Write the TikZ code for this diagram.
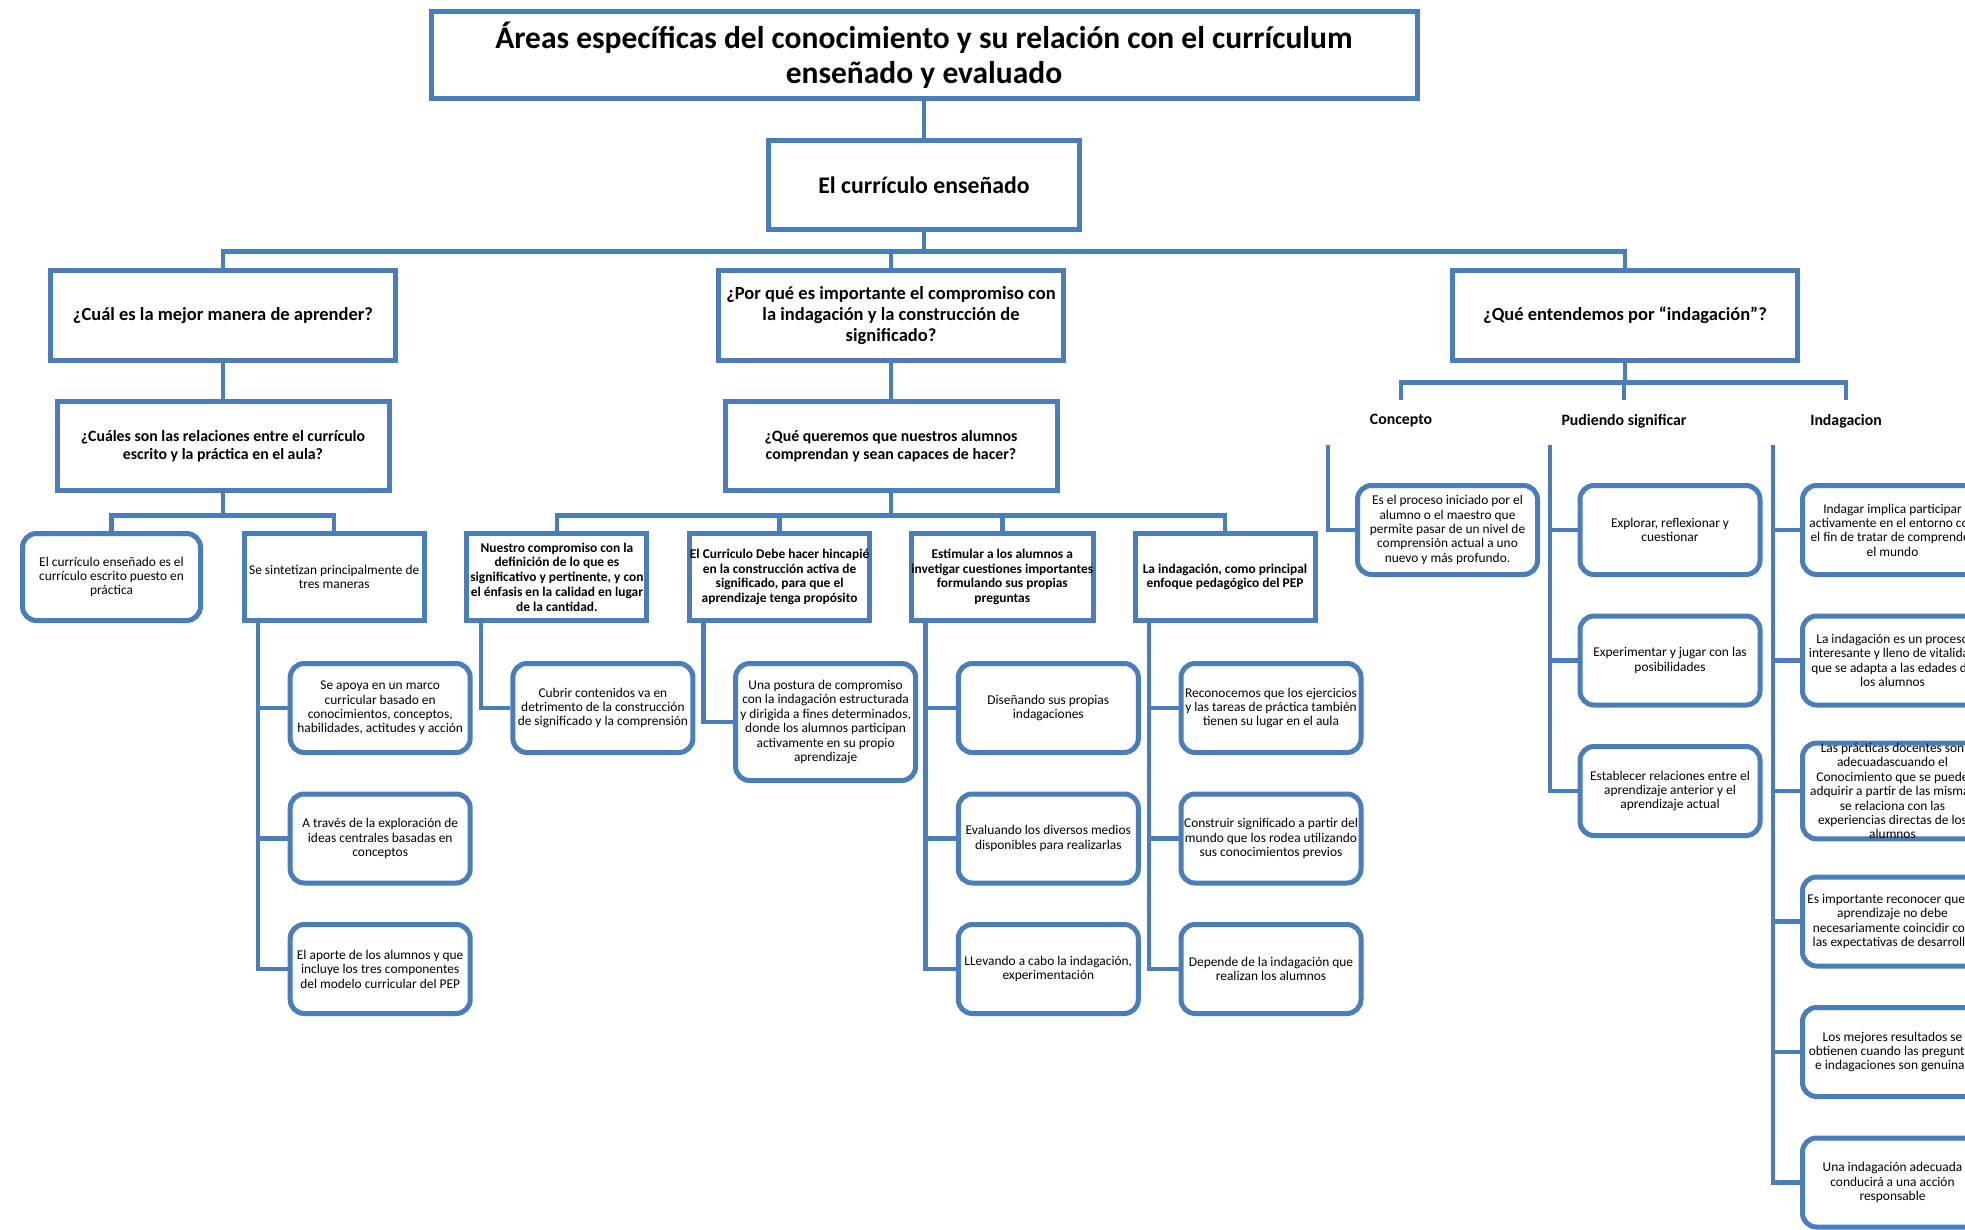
\documentclass[tikz,border=0pt]{standalone}
\usepackage{fontspec}
\setmainfont{Carlito}
\usepackage{tikz}
\usetikzlibrary{positioning}
\definecolor{boxblue}{RGB}{74,126,187}

\begin{document}
\begin{tikzpicture}[x=1pt,y=-1pt,line join=miter,
  every node/.style={align=center,inner sep=0pt,text=black},
  title node/.style={draw=boxblue,line width=5pt,minimum width=986pt,minimum height=87pt,font=\fontsize{31.5}{35}\selectfont\bfseries},
  main node/.style={draw=boxblue,line width=5pt,minimum width=311pt,minimum height=89pt,font=\fontsize{23.8}{27}\selectfont\bfseries},
  head node/.style={draw=boxblue,line width=5pt,minimum width=345pt,minimum height=90pt,font=\fontsize{18.5}{20.7}\selectfont\bfseries},
  sub node/.style={draw=boxblue,line width=5pt,minimum width=332pt,minimum height=89pt,font=\fontsize{15.8}{17.6}\selectfont\bfseries},
  key node/.style={draw=boxblue,line width=5pt,minimum width=180pt,minimum height=87pt,font=\fontsize{13.4}{14.7}\selectfont\bfseries},
  leaf node/.style={draw=boxblue,line width=5pt,rounded corners=14pt,minimum width=180pt,minimum height=89pt,font=\fontsize{13.4}{14.4}\selectfont},
  tag node/.style={minimum height=42pt,font=\fontsize{15.8}{17}\selectfont\bfseries},
  link/.style={draw=boxblue,line width=4.5pt}]
  \useasboundingbox (0,0) rectangle (1965,1230);
  \clip (0,0) rectangle (1965,1230);
  \fill[white] (0,0) rectangle (1965,1230);

  \node[title node] (title) at (924,55) {Áreas específicas del conocimiento y su relación con el currículum\\enseñado y evaluado};
  \node[main node] (cur) at (924,185) {El currículo enseñado};
  \node[head node] (q1) at (223,315.5) {¿Cuál es la mejor manera de aprender?};
  \node[head node] (q2) at (891,315.5) {¿Por qué es importante el compromiso con\\la indagación y la construcción de\\significado?};
  \node[head node] (q3) at (1625,315.5) {¿Qué entendemos por “indagación”?};
  \node[sub node] (r1) [below of=q1,node distance=130.5pt] {¿Cuáles son las relaciones entre el currículo\\escrito y la práctica en el aula?};
  \node[sub node] (r2) [below of=q2,node distance=130.5pt] {¿Qué queremos que nuestros alumnos\\comprendan y sean capaces de hacer?};

  \node[leaf node,minimum width=178pt,minimum height=87pt] (a1) at (111.5,577) {El currículo enseñado es el\\currículo escrito puesto en\\práctica};
  \node[key node,font=\fontsize{13.4}{14.4}\selectfont] (a2) [right of=a1,node distance=222.7pt] {Se sintetizan principalmente de\\tres maneras};
  \node[key node] (m1) [right of=a2,node distance=222.7pt] {Nuestro compromiso con la\\definición de lo que es\\significativo y pertinente, y con\\el énfasis en la calidad en lugar\\de la cantidad.};
  \node[key node] (m2) [right of=m1,node distance=222.7pt] {El Curriculo Debe hacer hincapié\\en la construcción activa de\\significado, para que el\\aprendizaje tenga propósito};
  \node[key node] (m3) [right of=m2,node distance=222.7pt] {Estimular a los alumnos a\\invetigar cuestiones importantes\\formulando sus propias\\preguntas};
  \node[key node] (m4) [right of=m3,node distance=222.7pt] {La indagación, como principal\\enfoque pedagógico del PEP};

  \node[leaf node] (al1) [below of=a2,node distance=131pt,xshift=46pt] {Se apoya en un marco\\curricular basado en\\conocimientos, conceptos,\\habilidades, actitudes y acción};
  \node[leaf node] (al2) [below of=al1,node distance=130.5pt] {A través de la exploración de\\ideas centrales basadas en\\conceptos};
  \node[leaf node] (al3) [below of=al2,node distance=130.5pt] {El aporte de los alumnos y que\\incluye los tres componentes\\del modelo curricular del PEP};
  \node[leaf node] (ml1) [below of=m1,node distance=131pt,xshift=46pt] {Cubrir contenidos va en\\detrimento de la construcción\\de significado y la comprensión};
  \node[leaf node,minimum height=117pt] (ml2) [below of=m2,node distance=145pt,xshift=46pt] {Una postura de compromiso\\con la indagación estructurada\\y dirigida a fines determinados,\\donde los alumnos participan\\activamente en su propio\\aprendizaje};
  \node[leaf node] (ml3a) [below of=m3,node distance=131pt,xshift=46pt] {Diseñando sus propias\\indagaciones};
  \node[leaf node] (ml3b) [below of=ml3a,node distance=130.5pt] {Evaluando los diversos medios\\disponibles para realizarlas};
  \node[leaf node] (ml3c) [below of=ml3b,node distance=130.5pt] {LLevando a cabo la indagación,\\experimentación};
  \node[leaf node] (ml4a) [below of=m4,node distance=131pt,xshift=46pt] {Reconocemos que los ejercicios\\y las tareas de práctica también\\tienen su lugar en el aula};
  \node[leaf node] (ml4b) [below of=ml4a,node distance=130.5pt] {Construir significado a partir del\\mundo que los rodea utilizando\\sus conocimientos previos};
  \node[leaf node] (ml4c) [below of=ml4b,node distance=130.5pt] {Depende de la indagación que\\realizan los alumnos};

  \node[tag node] (lc) at (1401,421) {Concepto};
  \node[tag node] (lp) at (1624,421) {Pudiendo significar};
  \node[tag node] (li) at (1846,421) {Indagacion};
  \coordinate (ctop) at (1328,445);
  \coordinate (ptop) at (1550,445);
  \coordinate (itop) at (1773,445);

  \node[leaf node] (c1) at (1447.5,530) {Es el proceso iniciado por el\\alumno o el maestro que\\permite pasar de un nivel de\\comprensión actual a uno\\nuevo y más profundo.};
  \node[leaf node] (p1) [right of=c1,node distance=222.5pt] {Explorar, reflexionar y\\cuestionar};
  \node[leaf node] (p2) [below of=p1,node distance=130.5pt] {Experimentar y jugar con las\\posibilidades};
  \node[leaf node] (p3) [below of=p2,node distance=130.5pt] {Establecer relaciones entre el\\aprendizaje anterior y el\\aprendizaje actual};
  \node[leaf node] (i1) [right of=p1,node distance=222.5pt] {Indagar implica participar\\activamente en el entorno con\\el fin de tratar de comprender\\el mundo};
  \node[leaf node] (i2) [below of=i1,node distance=130.5pt] {La indagación es un proceso\\interesante y lleno de vitalidad\\que se adapta a las edades de\\los alumnos};
  \node[leaf node] (i3) [below of=i2,node distance=130.5pt] {Las prácticas docentes son\\adecuadascuando el\\Conocimiento que se puede\\adquirir a partir de las mismas\\se relaciona con las\\experiencias directas de los\\alumnos};
  \node[leaf node] (i4) [below of=i3,node distance=130.5pt] {Es importante reconocer que el\\aprendizaje no debe\\necesariamente coincidir con\\las expectativas de desarrollo};
  \node[leaf node] (i5) [below of=i4,node distance=130.5pt] {Los mejores resultados se\\obtienen cuando las preguntas\\e indagaciones son genuinas};
  \node[leaf node] (i6) [below of=i5,node distance=130.5pt] {Una indagación adecuada\\conducirá a una acción\\responsable};

  \path[link,line width=3.5pt] (title) edge (cur);
  \path[link]
    (q1) edge (r1)
    (q2) edge (r2);
  \draw[link]
    (cur.south) -- ++(0,19.5) -| (q1.north)
    (cur.south) -- ++(0,19.5) -| (q2.north)
    (cur.south) -- ++(0,19.5) -| (q3.north)
    (r1.south) -- ++(0,22.5) -| (a1.north)
    (r1.south) -- ++(0,22.5) -| (a2.north)
    (r2.south) -- ++(0,22.5) -| (m1.north)
    (r2.south) -- ++(0,22.5) -| (m2.north)
    (r2.south) -- ++(0,22.5) -| (m3.north)
    (r2.south) -- ++(0,22.5) -| (m4.north)
    (q3.south) -- ++(0,19.5) -| (lc.north)
    (q3.south) -- ++(0,19.5) -| (lp.north)
    (q3.south) -- ++(0,19.5) -| (li.north);
  \draw[link]
    ([xshift=16.5pt]a2.south west) |- (al1.west)
    ([xshift=16.5pt]a2.south west) |- (al2.west)
    ([xshift=16.5pt]a2.south west) |- (al3.west)
    ([xshift=16.5pt]m1.south west) |- (ml1.west)
    ([xshift=16.5pt]m2.south west) |- (ml2.west)
    ([xshift=16.5pt]m3.south west) |- (ml3a.west)
    ([xshift=16.5pt]m3.south west) |- (ml3b.west)
    ([xshift=16.5pt]m3.south west) |- (ml3c.west)
    ([xshift=16.5pt]m4.south west) |- (ml4a.west)
    ([xshift=16.5pt]m4.south west) |- (ml4b.west)
    ([xshift=16.5pt]m4.south west) |- (ml4c.west);
  \draw[link]
    (ctop) |- (c1.west)
    (ptop) |- (p1.west)
    (ptop) |- (p2.west)
    (ptop) |- (p3.west)
    (itop) |- (i1.west)
    (itop) |- (i2.west)
    (itop) |- (i3.west)
    (itop) |- (i4.west)
    (itop) |- (i5.west)
    (itop) |- (i6.west);
\end{tikzpicture}
\end{document}
